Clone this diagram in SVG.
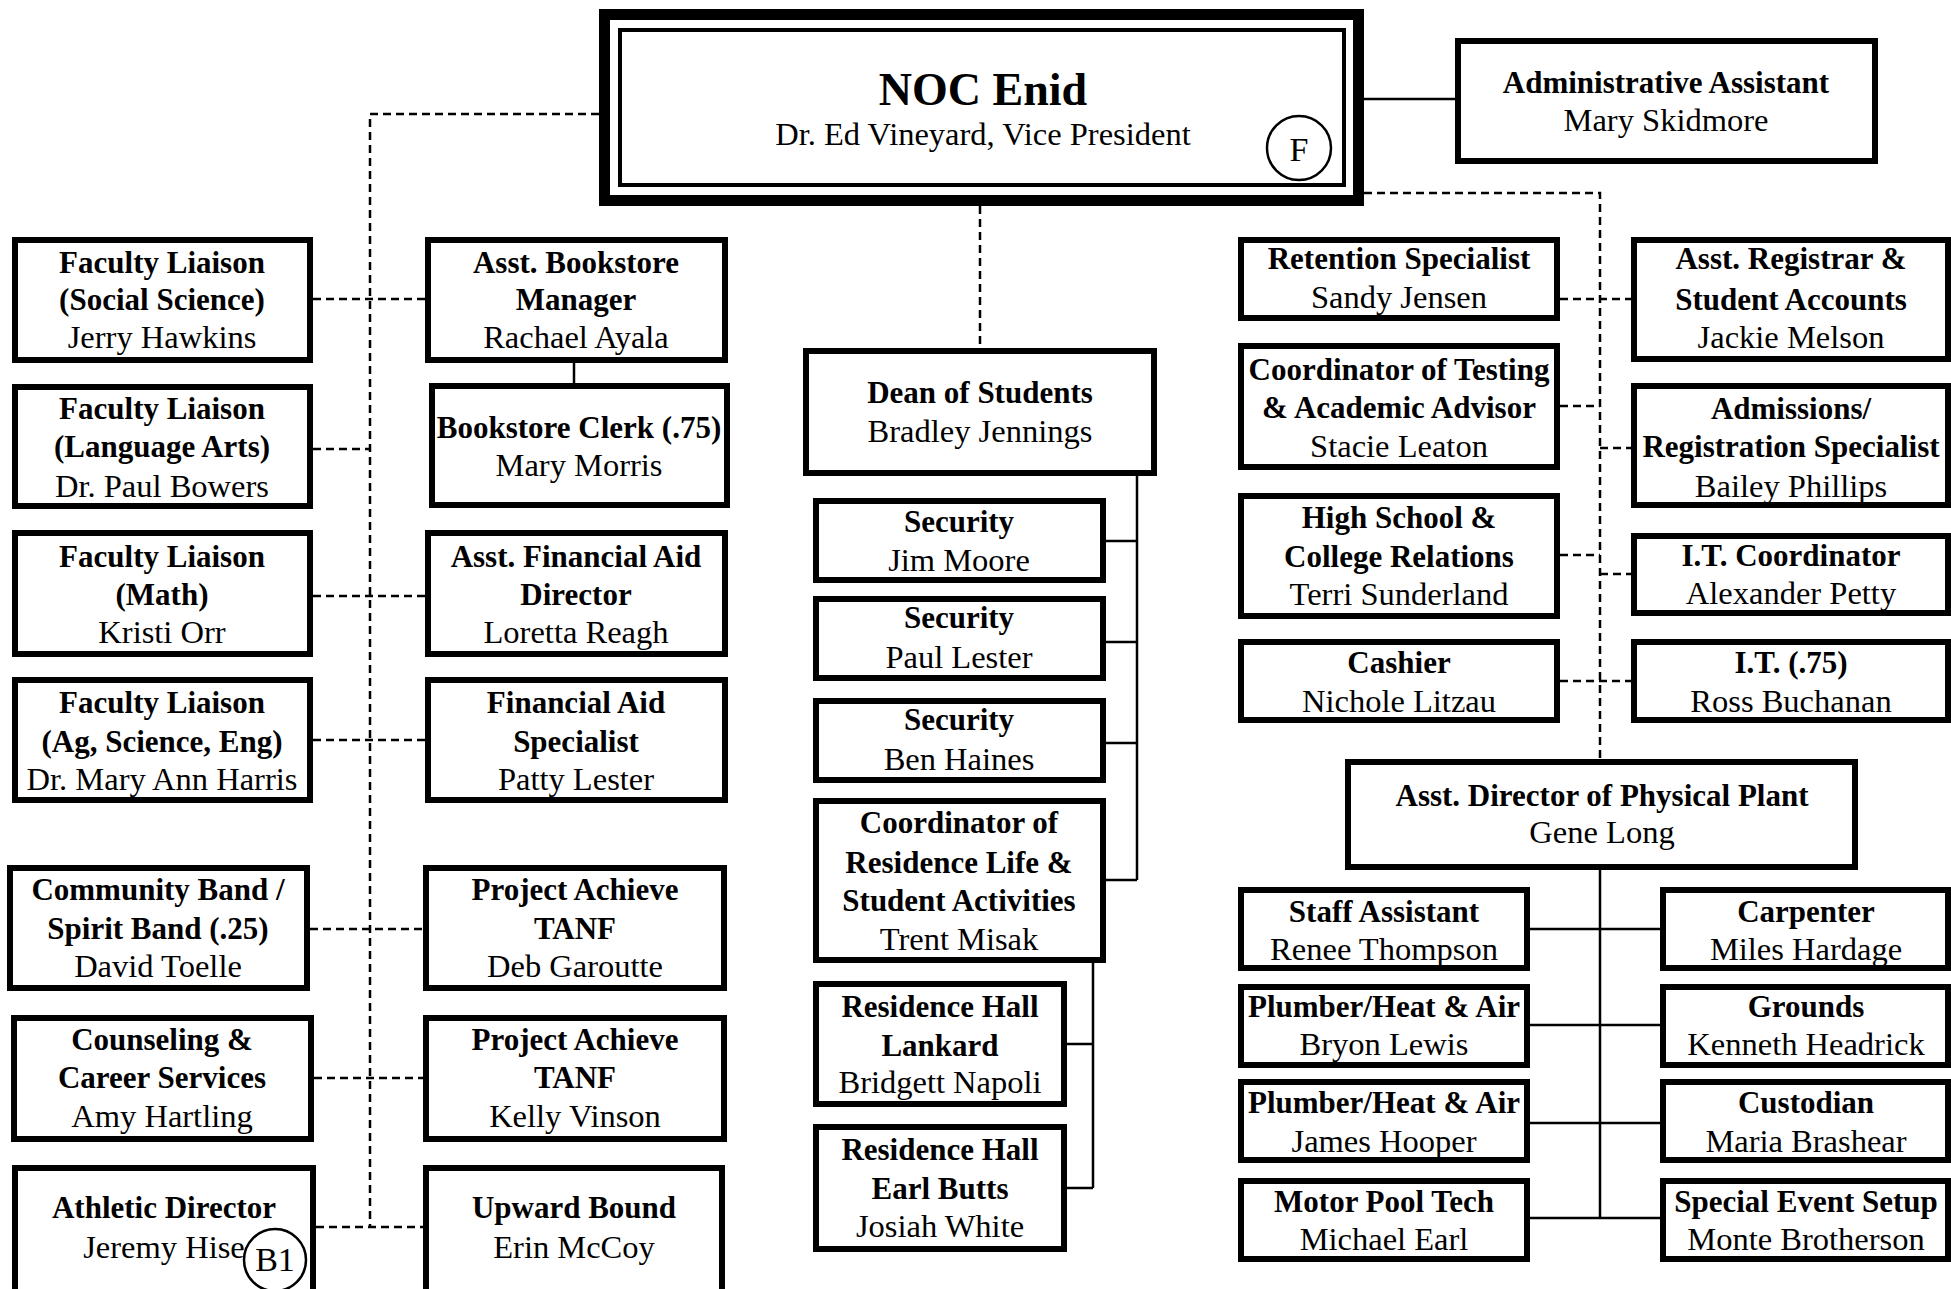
<svg xmlns="http://www.w3.org/2000/svg" width="1951" height="1289" viewBox="0 0 1951 1289">
<style>
.bg{fill:#fff}
.box{fill:#fff;stroke:#000;stroke-width:6}
.t{font-family:"Liberation Serif","Times New Roman",serif;font-size:32.5px;text-anchor:middle;fill:#000}
.b{font-weight:bold;font-size:31px}
.ln{fill:none;stroke:#000;stroke-width:2.5}
.d{stroke-dasharray:8 5}
.badge{fill:none;stroke:#000;stroke-width:2.5}
</style>
<rect class="bg" x="0" y="0" width="1951" height="1289"/>

<g id="connectors">
  <path class="ln" d="M1364,99 H1455"/>
  <path class="ln" d="M574,363 V383"/>
  <path class="ln" d="M1137,476 V880 M1106,541 H1137 M1106,642 H1137 M1106,743 H1137 M1106,880 H1137"/>
  <path class="ln" d="M1093,963 V1188 M1067,1044 H1093 M1067,1188 H1093"/>
  <path class="ln" d="M1600,870 V1218 M1530,929 H1660 M1530,1025 H1660 M1530,1123 H1660 M1530,1218 H1660"/>
  <path class="ln d" d="M599,114 H370 V1227"/>
  <path class="ln d" d="M313,299 H425"/>
  <path class="ln d" d="M313,449 H370"/>
  <path class="ln d" d="M313,596 H425"/>
  <path class="ln d" d="M313,740 H425"/>
  <path class="ln d" d="M310,929 H423"/>
  <path class="ln d" d="M314,1078 H423"/>
  <path class="ln d" d="M316,1227 H423"/>
  <path class="ln d" d="M980,206 V348"/>
  <path class="ln d" d="M1364,193 H1600 V759"/>
  <path class="ln d" d="M1560,299 H1631"/>
  <path class="ln d" d="M1560,406 H1600"/>
  <path class="ln d" d="M1600,448 H1631"/>
  <path class="ln d" d="M1560,555 H1600"/>
  <path class="ln d" d="M1600,574 H1631"/>
  <path class="ln d" d="M1560,681 H1631"/>
</g>

<g id="noc-enid">
  <rect x="604.5" y="14.5" width="754" height="186" fill="#fff" stroke="#000" stroke-width="11"/>
  <rect x="620" y="30" width="724" height="155" fill="none" stroke="#000" stroke-width="4"/>
  <text class="t b" x="983" y="105" style="font-size:46px">NOC Enid</text>
  <text class="t" x="983" y="145">Dr. Ed Vineyard, Vice President</text>
  <circle class="badge" cx="1299" cy="148" r="32"/>
  <text class="t" x="1299" y="161" style="font-size:34px">F</text>
</g>

<g id="admin-assistant">
  <rect class="box" x="1458" y="41" width="417" height="120"/>
  <text class="t b" x="1666" y="93">Administrative Assistant</text>
  <text class="t" x="1666" y="131">Mary Skidmore</text>
</g>

<g id="fl-social-science">
  <rect class="box" x="15" y="240" width="295" height="120"/>
  <text class="t b" x="162" y="273">Faculty Liaison</text>
  <text class="t b" x="162" y="310">(Social Science)</text>
  <text class="t" x="162" y="348">Jerry Hawkins</text>
</g>
<g id="fl-language-arts">
  <rect class="box" x="15" y="387" width="295" height="119"/>
  <text class="t b" x="162" y="419">Faculty Liaison</text>
  <text class="t b" x="162" y="457">(Language Arts)</text>
  <text class="t" x="162" y="497">Dr. Paul Bowers</text>
</g>
<g id="fl-math">
  <rect class="box" x="15" y="533" width="295" height="121"/>
  <text class="t b" x="162" y="567">Faculty Liaison</text>
  <text class="t b" x="162" y="605">(Math)</text>
  <text class="t" x="162" y="643">Kristi Orr</text>
</g>
<g id="fl-ag-science-eng">
  <rect class="box" x="15" y="680" width="295" height="120"/>
  <text class="t b" x="162" y="713">Faculty Liaison</text>
  <text class="t b" x="162" y="752">(Ag, Science, Eng)</text>
  <text class="t" x="162" y="790">Dr. Mary Ann Harris</text>
</g>
<g id="community-band">
  <rect class="box" x="10" y="868" width="297" height="120"/>
  <text class="t b" x="158" y="900">Community Band /</text>
  <text class="t b" x="158" y="939">Spirit Band (.25)</text>
  <text class="t" x="158" y="977">David Toelle</text>
</g>
<g id="counseling">
  <rect class="box" x="14" y="1018" width="297" height="121"/>
  <text class="t b" x="162" y="1050">Counseling &amp;</text>
  <text class="t b" x="162" y="1088">Career Services</text>
  <text class="t" x="162" y="1127">Amy Hartling</text>
</g>
<g id="athletic-director">
  <rect class="box" x="15" y="1168" width="298" height="140"/>
  <text class="t b" x="164" y="1218">Athletic Director</text>
  <text class="t" x="164" y="1258">Jeremy Hise</text>
  <circle class="badge" cx="275" cy="1260" r="31"/>
  <text class="t" x="275" y="1271" style="font-size:34px">B1</text>
</g>

<g id="asst-bookstore-manager">
  <rect class="box" x="428" y="240" width="297" height="120"/>
  <text class="t b" x="576" y="273">Asst. Bookstore</text>
  <text class="t b" x="576" y="310">Manager</text>
  <text class="t" x="576" y="348">Rachael Ayala</text>
</g>
<g id="bookstore-clerk">
  <rect class="box" x="432" y="386" width="295" height="119"/>
  <text class="t b" x="579" y="438">Bookstore Clerk (.75)</text>
  <text class="t" x="579" y="476">Mary Morris</text>
</g>
<g id="asst-financial-aid-director">
  <rect class="box" x="428" y="533" width="297" height="121"/>
  <text class="t b" x="576" y="567">Asst. Financial Aid</text>
  <text class="t b" x="576" y="605">Director</text>
  <text class="t" x="576" y="643">Loretta Reagh</text>
</g>
<g id="financial-aid-specialist">
  <rect class="box" x="428" y="680" width="297" height="120"/>
  <text class="t b" x="576" y="713">Financial Aid</text>
  <text class="t b" x="576" y="752">Specialist</text>
  <text class="t" x="576" y="790">Patty Lester</text>
</g>
<g id="project-achieve-1">
  <rect class="box" x="426" y="868" width="298" height="120"/>
  <text class="t b" x="575" y="900">Project Achieve</text>
  <text class="t b" x="575" y="939">TANF</text>
  <text class="t" x="575" y="977">Deb Garoutte</text>
</g>
<g id="project-achieve-2">
  <rect class="box" x="426" y="1018" width="298" height="121"/>
  <text class="t b" x="575" y="1050">Project Achieve</text>
  <text class="t b" x="575" y="1088">TANF</text>
  <text class="t" x="575" y="1127">Kelly Vinson</text>
</g>
<g id="upward-bound">
  <rect class="box" x="426" y="1168" width="296" height="140"/>
  <text class="t b" x="574" y="1218">Upward Bound</text>
  <text class="t" x="574" y="1258">Erin McCoy</text>
</g>

<g id="dean-of-students">
  <rect class="box" x="806" y="351" width="348" height="122"/>
  <text class="t b" x="980" y="403">Dean of Students</text>
  <text class="t" x="980" y="442">Bradley Jennings</text>
</g>
<g id="security-1">
  <rect class="box" x="816" y="501" width="287" height="79"/>
  <text class="t b" x="959" y="532">Security</text>
  <text class="t" x="959" y="571">Jim Moore</text>
</g>
<g id="security-2">
  <rect class="box" x="816" y="599" width="287" height="79"/>
  <text class="t b" x="959" y="628">Security</text>
  <text class="t" x="959" y="668">Paul Lester</text>
</g>
<g id="security-3">
  <rect class="box" x="816" y="701" width="287" height="79"/>
  <text class="t b" x="959" y="730">Security</text>
  <text class="t" x="959" y="770">Ben Haines</text>
</g>
<g id="coord-residence-life">
  <rect class="box" x="816" y="801" width="287" height="159"/>
  <text class="t b" x="959" y="833">Coordinator of</text>
  <text class="t b" x="959" y="873">Residence Life &amp;</text>
  <text class="t b" x="959" y="911">Student Activities</text>
  <text class="t" x="959" y="950">Trent Misak</text>
</g>
<g id="residence-hall-lankard">
  <rect class="box" x="816" y="984" width="248" height="120"/>
  <text class="t b" x="940" y="1017">Residence Hall</text>
  <text class="t b" x="940" y="1056">Lankard</text>
  <text class="t" x="940" y="1093">Bridgett Napoli</text>
</g>
<g id="residence-hall-earl-butts">
  <rect class="box" x="816" y="1127" width="248" height="122"/>
  <text class="t b" x="940" y="1160">Residence Hall</text>
  <text class="t b" x="940" y="1199">Earl Butts</text>
  <text class="t" x="940" y="1237">Josiah White</text>
</g>

<g id="retention-specialist">
  <rect class="box" x="1241" y="240" width="316" height="78"/>
  <text class="t b" x="1399" y="269">Retention Specialist</text>
  <text class="t" x="1399" y="308">Sandy Jensen</text>
</g>
<g id="coord-testing">
  <rect class="box" x="1241" y="346" width="316" height="121"/>
  <text class="t b" x="1399" y="380">Coordinator of Testing</text>
  <text class="t b" x="1399" y="418">&amp; Academic Advisor</text>
  <text class="t" x="1399" y="457">Stacie Leaton</text>
</g>
<g id="hs-college-relations">
  <rect class="box" x="1241" y="496" width="316" height="120"/>
  <text class="t b" x="1399" y="528">High School &amp;</text>
  <text class="t b" x="1399" y="567">College Relations</text>
  <text class="t" x="1399" y="605">Terri Sunderland</text>
</g>
<g id="cashier">
  <rect class="box" x="1241" y="642" width="316" height="78"/>
  <text class="t b" x="1399" y="673">Cashier</text>
  <text class="t" x="1399" y="712">Nichole Litzau</text>
</g>

<g id="asst-registrar">
  <rect class="box" x="1634" y="240" width="314" height="119"/>
  <text class="t b" x="1791" y="269">Asst. Registrar &amp;</text>
  <text class="t b" x="1791" y="310">Student Accounts</text>
  <text class="t" x="1791" y="348">Jackie Melson</text>
</g>
<g id="admissions">
  <rect class="box" x="1634" y="386" width="314" height="119"/>
  <text class="t b" x="1791" y="419">Admissions/</text>
  <text class="t b" x="1791" y="457">Registration Specialist</text>
  <text class="t" x="1791" y="497">Bailey Phillips</text>
</g>
<g id="it-coordinator">
  <rect class="box" x="1634" y="536" width="314" height="77"/>
  <text class="t b" x="1791" y="566">I.T. Coordinator</text>
  <text class="t" x="1791" y="604">Alexander Petty</text>
</g>
<g id="it-75">
  <rect class="box" x="1634" y="642" width="314" height="78"/>
  <text class="t b" x="1791" y="673">I.T. (.75)</text>
  <text class="t" x="1791" y="712">Ross Buchanan</text>
</g>

<g id="asst-director-physical-plant">
  <rect class="box" x="1348" y="762" width="507" height="105"/>
  <text class="t b" x="1602" y="806">Asst. Director of Physical Plant</text>
  <text class="t" x="1602" y="843">Gene Long</text>
</g>
<g id="staff-assistant">
  <rect class="box" x="1241" y="890" width="286" height="78"/>
  <text class="t b" x="1384" y="922">Staff Assistant</text>
  <text class="t" x="1384" y="960">Renee Thompson</text>
</g>
<g id="plumber-1">
  <rect class="box" x="1241" y="987" width="286" height="78"/>
  <text class="t b" x="1384" y="1017">Plumber/Heat &amp; Air</text>
  <text class="t" x="1384" y="1055">Bryon Lewis</text>
</g>
<g id="plumber-2">
  <rect class="box" x="1241" y="1082" width="286" height="78"/>
  <text class="t b" x="1384" y="1113">Plumber/Heat &amp; Air</text>
  <text class="t" x="1384" y="1152">James Hooper</text>
</g>
<g id="motor-pool-tech">
  <rect class="box" x="1241" y="1181" width="286" height="78"/>
  <text class="t b" x="1384" y="1212">Motor Pool Tech</text>
  <text class="t" x="1384" y="1250">Michael Earl</text>
</g>
<g id="carpenter">
  <rect class="box" x="1663" y="890" width="285" height="78"/>
  <text class="t b" x="1806" y="922">Carpenter</text>
  <text class="t" x="1806" y="960">Miles Hardage</text>
</g>
<g id="grounds">
  <rect class="box" x="1663" y="987" width="285" height="78"/>
  <text class="t b" x="1806" y="1017">Grounds</text>
  <text class="t" x="1806" y="1055">Kenneth Headrick</text>
</g>
<g id="custodian">
  <rect class="box" x="1663" y="1082" width="285" height="78"/>
  <text class="t b" x="1806" y="1113">Custodian</text>
  <text class="t" x="1806" y="1152">Maria Brashear</text>
</g>
<g id="special-event-setup">
  <rect class="box" x="1663" y="1181" width="285" height="78"/>
  <text class="t b" x="1806" y="1212">Special Event Setup</text>
  <text class="t" x="1806" y="1250">Monte Brotherson</text>
</g>
</svg>
